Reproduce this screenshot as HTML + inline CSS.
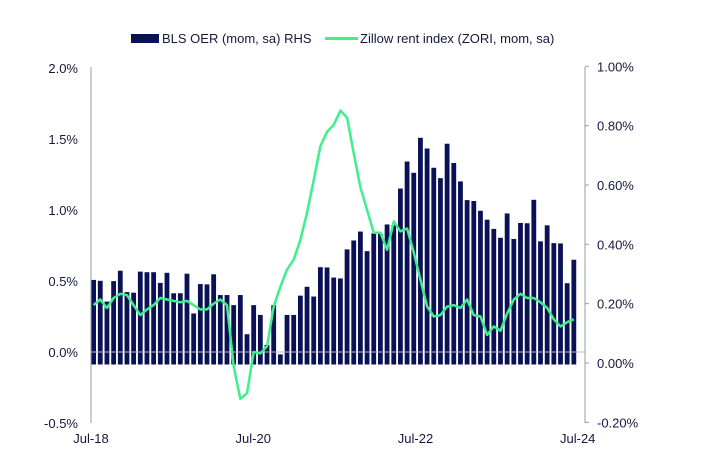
<!DOCTYPE html>
<html><head><meta charset="utf-8"><style>
body{margin:0;background:#fff;}
svg text{font-family:"Liberation Sans",sans-serif;fill:#14183f;font-size:13px;}
</style></head><body>
<svg id="chart" width="708" height="454" viewBox="0 0 708 454" xmlns="http://www.w3.org/2000/svg">
<g>
<rect x="131" y="34" width="28" height="9" fill="#0b1155"/>
<text x="162" y="43">BLS OER (mom, sa) RHS</text>
<line x1="325" y1="38.5" x2="358" y2="38.5" stroke="#3df08c" stroke-width="3"/>
<text x="360" y="43">Zillow rent index (ZORI, mom, sa)</text>
</g>
<g id="bars"></g>
<line x1="91" y1="352" x2="585" y2="352" stroke="#b8b8c4" stroke-width="1"/>
<path id="line" fill="none" stroke="#3df08c" stroke-width="2.5" stroke-linejoin="round"/>
<line x1="91" y1="67" x2="91" y2="423" stroke="#9a9aa8"/>
<line x1="585" y1="67" x2="585" y2="423" stroke="#9a9aa8"/>
<g id="ticks"></g>
</svg>
<script>
const months = [];
const oer = [0.28,0.277,0.207,0.276,0.311,0.239,0.237,0.308,0.306,0.306,0.27,0.304,0.235,0.235,0.301,0.167,0.266,0.265,0.299,0.229,0.229,0.195,0.229,0.097,0.195,0.162,0.061,0.195,0.029,0.162,0.162,0.227,0.257,0.224,0.323,0.322,0.288,0.285,0.383,0.413,0.443,0.377,0.437,0.435,0.467,0.465,0.588,0.679,0.641,0.759,0.723,0.658,0.623,0.739,0.674,0.612,0.549,0.546,0.513,0.483,0.452,0.422,0.504,0.418,0.472,0.471,0.55,0.41,0.464,0.404,0.403,0.269,0.348];
const zori = [0.33,0.37,0.31,0.38,0.41,0.40,0.33,0.26,0.30,0.33,0.38,0.37,0.36,0.35,0.36,0.33,0.30,0.30,0.34,0.37,0.33,-0.10,-0.33,-0.29,0.00,-0.01,0.04,0.32,0.46,0.58,0.65,0.79,0.98,1.21,1.45,1.55,1.60,1.70,1.65,1.40,1.16,1.00,0.84,0.84,0.72,0.92,0.85,0.87,0.70,0.51,0.32,0.25,0.26,0.32,0.33,0.31,0.37,0.26,0.25,0.12,0.18,0.15,0.27,0.37,0.41,0.38,0.38,0.35,0.31,0.23,0.18,0.21,0.23];
const leftTicks = ["-0.5%","0.0%","0.5%","1.0%","1.5%","2.0%"];
const leftVals = [-0.5,0,0.5,1.0,1.5,2.0];
const rightTicks = ["-0.20%","0.00%","0.20%","0.40%","0.60%","0.80%","1.00%"];
const rightVals = [-0.2,0,0.2,0.4,0.6,0.8,1.0];
const xLabels = ["Jul-18","Jul-20","Jul-22","Jul-24"];
const xLabelIdx = [0,24,48,72];

const NS="http://www.w3.org/2000/svg";
const yL = v => 352 - v*142;
const yR = v => 363 - v*296.7;
const xC = i => 93.6 + i*6.67;
const svg=document.getElementById('chart');
const bars=document.getElementById('bars');
oer.forEach((v,i)=>{
  const r=document.createElementNS(NS,'rect');
  const y=Math.min(yR(v),yR(0));
  r.setAttribute('x',xC(i)-2.4);r.setAttribute('y',y);
  r.setAttribute('width',4.8);r.setAttribute('height',Math.abs(yR(v)-yR(0))+1.5);
  r.setAttribute('fill','#0b1155');
  
  
  bars.appendChild(r);
});
document.getElementById('line').setAttribute('d',zori.map((v,i)=>(i?'L':'M')+xC(i).toFixed(1)+','+yL(v).toFixed(1)).join(''));
const tg=document.getElementById('ticks');
function txt(x,y,s,anchor,name){
  const t=document.createElementNS(NS,'text');
  t.setAttribute('x',x);t.setAttribute('y',y);t.setAttribute('text-anchor',anchor);
  t.textContent=s;
  
  
  tg.appendChild(t);
}
leftVals.forEach((v,i)=>txt(78,yL(v)+5,leftTicks[i],'end','left-tick-label'));
rightVals.forEach((v,i)=>{
  txt(597,yR(v)+5,rightTicks[i],'start','right-tick-label');
  const l=document.createElementNS(NS,'line');
  l.setAttribute('x1',585);l.setAttribute('x2',589);l.setAttribute('y1',yR(v));l.setAttribute('y2',yR(v));
  l.setAttribute('stroke','#9a9aa8');
  
  
  tg.appendChild(l);
});
xLabelIdx.forEach((idx,i)=>txt(91+idx*6.76,443,xLabels[i],'middle','x-tick-label'));
</script>
</body></html>
